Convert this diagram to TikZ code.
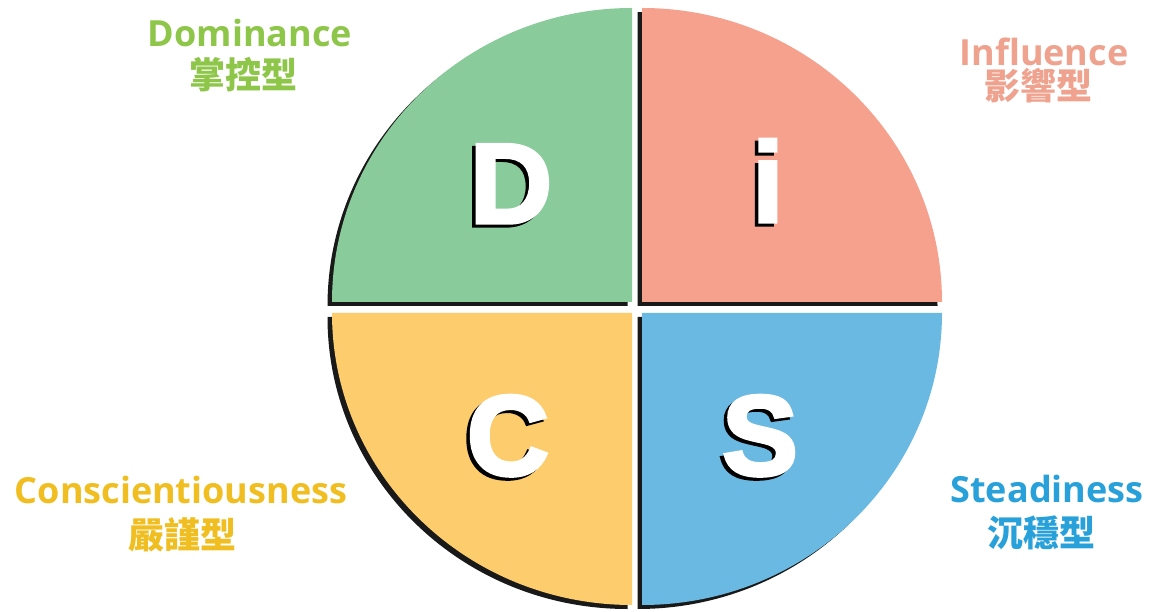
\documentclass[tikz,border=0pt]{standalone}
\usepackage{fontspec}
\setmainfont{Liberation Sans}
\newfontfamily\labelfont{Open Sans}
\newfontfamily\cjkfont{Noto Sans CJK TC}
\newfontfamily\letterfont[FakeBold=3]{Liberation Sans Bold}
\usepackage{xcolor}
\definecolor{discD}{RGB}{138,203,155}
\definecolor{discI}{RGB}{245,161,141}
\definecolor{discC}{RGB}{253,204,108}
\definecolor{discS}{RGB}{106,185,226}
\definecolor{textD}{RGB}{141,198,72}
\definecolor{textI}{RGB}{239,162,142}
\definecolor{textC}{RGB}{240,190,32}
\definecolor{textS}{RGB}{40,160,218}
\tikzstyle{shade} = [fill=black!90, shift={(-4.5,-4)}]
\tikzstyle{letter} = [font=\letterfont\fontsize{114}{114}\selectfont, text=white, inner sep=0pt, anchor=base]
\tikzstyle{letterback} = [letter, text=black, xshift=-3.5pt, yshift=-3pt]
\tikzstyle{title} = [font=\labelfont\fontsize{36}{36}\selectfont\bfseries, inner sep=0pt]
\tikzstyle{subtitle} = [font=\cjkfont\fontsize{36}{36}\selectfont\bfseries, inner sep=0pt]

\begin{document}
\begin{tikzpicture}[x=1pt, y=1pt]
    \useasboundingbox (0,0) rectangle (1152,611);
    \fill [white] (0,0) rectangle (1152,611);
    % Quadrants
    \fill [shade] (632,309) -- (332,309) arc [start angle=180, end angle=90, x radius=300, y radius=294] -- cycle;
    \fill [discD] (632,309) -- (332,309) arc [start angle=180, end angle=90, x radius=300, y radius=294] -- cycle;
    \fill [shade] (642,309) -- (942,309) arc [start angle=0, end angle=90, x radius=300, y radius=294] -- cycle;
    \fill [discI] (642,309) -- (942,309) arc [start angle=0, end angle=90, x radius=300, y radius=294] -- cycle;
    \fill [shade] (632,298) -- (332,298) arc [start angle=180, end angle=270, x radius=300, y radius=292] -- cycle;
    \fill [discC] (632,298) -- (332,298) arc [start angle=180, end angle=270, x radius=300, y radius=292] -- cycle;
    \fill [shade] (642,298) -- (942,298) arc [start angle=0, end angle=-90, x radius=300, y radius=292] -- cycle;
    \fill [discS] (642,298) -- (942,298) arc [start angle=0, end angle=-90, x radius=300, y radius=292] -- cycle;
    % Place letters
    \node [letterback] (dBack) at (511,388) {D};
    \node [letter] (dLetter) at (511,388) {D};
    \node [letterback] (iBack) at (768,389) {i};
    \node [letter] (iLetter) at (768,389) {i};
    \node [letterback] (cBack) at (508,136) {C};
    \node [letter] (cLetter) at (508,136) {C};
    \node [letterback] (sBack) at (760,136) {S};
    \node [letter] (sLetter) at (760,136) {S};
    % Place labels
    \node [title, text=textD] (dTitle) at (250,578) {Dominance};
    \node [subtitle, text=textD] (dName) at (243,536) {掌控型};
    \node [title, text=textI] (iTitle) at (1044,559) {Influence};
    \node [subtitle, text=textI] (iName) at (1038,525) {影響型};
    \node [title, text=textC] (cTitle) at (181,121) {Conscientiousness};
    \node [subtitle, text=textC] (cName) at (182,76) {嚴謹型};
    \node [title, text=textS] (sTitle) at (1047,122) {Steadiness};
    \node [subtitle, text=textS] (sName) at (1041,78) {沉穩型};
\end{tikzpicture}
\end{document}
